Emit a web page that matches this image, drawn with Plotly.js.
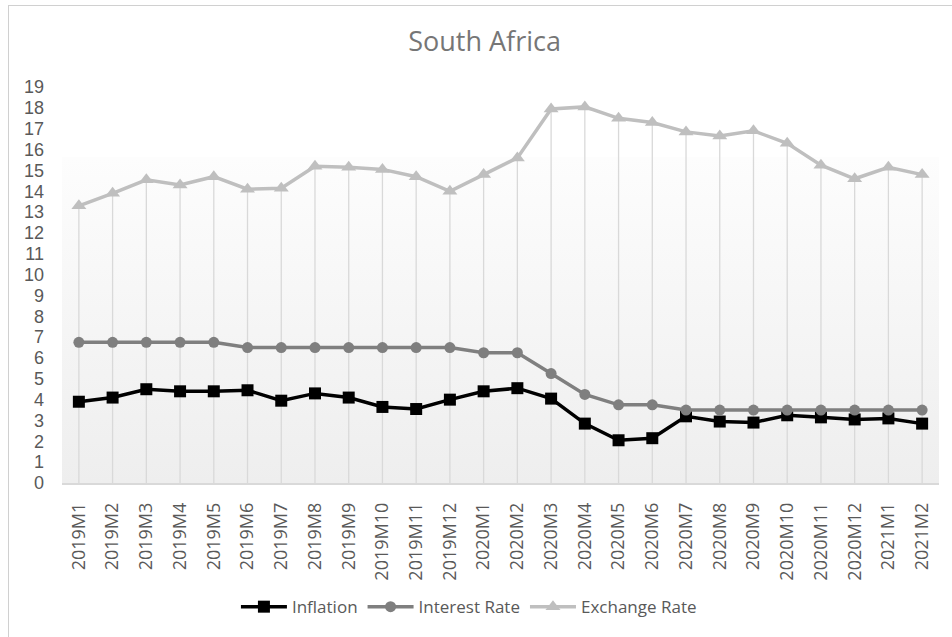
<!DOCTYPE html>
<html>
<head>
<meta charset="utf-8">
<script src="https://cdn.plot.ly/plotly-3.0.1.min.js"></script>
<style>
  html, body { margin: 0; padding: 0; background: #ffffff; }
  #wrap { position: relative; width: 952px; height: 637px; overflow: hidden; }
  #chart { position: absolute; left: 0; top: 0; width: 952px; height: 637px; }
  #frame { position: absolute; left: 8px; top: 5px; width: 960px; height: 660px;
           border: 1.5px solid #d0d0d0; pointer-events: none; }
</style>
</head>
<body>
<div id="wrap">
  <div id="chart"></div>
  <div id="frame"></div>
</div>
<script>
const categories = ["2019M1","2019M2","2019M3","2019M4","2019M5","2019M6","2019M7","2019M8","2019M9","2019M10","2019M11","2019M12",
                    "2020M1","2020M2","2020M3","2020M4","2020M5","2020M6","2020M7","2020M8","2020M9","2020M10","2020M11","2020M12",
                    "2021M1","2021M2"];
const inflation = [3.9, 4.1, 4.5, 4.4, 4.4, 4.45, 3.95, 4.3, 4.1, 3.65, 3.55, 4.0,
                   4.4, 4.55, 4.05, 2.85, 2.05, 2.15, 3.2, 2.95, 2.9, 3.25, 3.15, 3.05,
                   3.1, 2.85];
const interestRate = [6.75, 6.75, 6.75, 6.75, 6.75, 6.5, 6.5, 6.5, 6.5, 6.5, 6.5, 6.5,
                      6.25, 6.25, 5.25, 4.25, 3.75, 3.75, 3.5, 3.5, 3.5, 3.5, 3.5, 3.5,
                      3.5, 3.5];
const exchangeRate = [13.3, 13.9, 14.55, 14.3, 14.7, 14.1, 14.15, 15.2, 15.15, 15.05, 14.7, 14.0,
                      14.8, 15.6, 17.95, 18.05, 17.5, 17.3, 16.85, 16.65, 16.9, 16.3, 15.25, 14.6,
                      15.15, 14.8];
const yTicks = [0,1,2,3,4,5,6,7,8,9,10,11,12,13,14,15,16,17,18,19];

// drop lines from the highest series value down to the axis
const dropX = [], dropY = [];
categories.forEach((c, i) => {
  dropX.push(c, c, null);
  dropY.push(0, Math.max(inflation[i], interestRate[i], exchangeRate[i]), null);
});

const FONT = "'Open Sans', 'Liberation Sans', sans-serif";
const YFONT = "'Liberation Sans', Arial, sans-serif";
const gradSvg = "<svg xmlns='http://www.w3.org/2000/svg' width='100' height='100' preserveAspectRatio='none'>" +
  "<defs><linearGradient id='g' x1='0' y1='0' x2='0' y2='1'>" +
  "<stop offset='0' stop-color='#fdfdfd'/><stop offset='1' stop-color='#eeeeee'/></linearGradient></defs>" +
  "<rect width='100' height='100' fill='url(#g)'/></svg>";
const gradSrc = "data:image/svg+xml;charset=utf-8," + encodeURIComponent(gradSvg);

const traces = [
  { x: dropX, y: dropY, mode: "lines", line: { color: "#d9d9d9", width: 1.3 },
    showlegend: false, hoverinfo: "skip" },
  { x: categories, y: inflation, name: "Inflation", mode: "lines+markers",
    line: { color: "#000000", width: 3.5 }, marker: { symbol: "square", size: 12, color: "#000000" } },
  { x: categories, y: interestRate, name: "Interest Rate", mode: "lines+markers",
    line: { color: "#7f7f7f", width: 3.5 }, marker: { symbol: "circle", size: 11, color: "#7f7f7f" } },
  { x: categories, y: exchangeRate, name: "Exchange Rate", mode: "lines+markers",
    line: { color: "#bfbfbf", width: 3.5 }, marker: { symbol: "triangle-up", size: 13, color: "#bfbfbf" } }
];

const layout = {
  width: 952, height: 637,
  margin: { l: 62, r: 13, t: 80, b: 154 },
  paper_bgcolor: "rgba(0,0,0,0)",
  plot_bgcolor: "rgba(0,0,0,0)",
  font: { family: FONT, color: "#595959" },
  title: { text: "South Africa", x: 0.509, xref: "container", xanchor: "center",
           y: 0.934, yref: "container", yanchor: "middle",
           font: { family: FONT, size: 27, color: "#767676" } },
  xaxis: {
    type: "category", range: [-0.5, categories.length - 0.5],
    tickangle: -90, tickfont: { family: FONT, size: 18, color: "#595959" },
    showgrid: false, zeroline: false, showline: true, linecolor: "#d9d9d9", linewidth: 1.5,
    ticks: "", ticklabelstandoff: 11, fixedrange: true
  },
  yaxis: {
    range: [0, 19.34], tickvals: yTicks, ticktext: yTicks.map(String),
    tickfont: { family: YFONT, size: 18, color: "#595959" },
    showgrid: false, zeroline: false, showline: false, ticks: "",
    ticklabelstandoff: 17, fixedrange: true
  },
  legend: {
    orientation: "h", x: 0.464, xanchor: "center", y: -0.308, yanchor: "middle",
    font: { family: FONT, size: 17, color: "#595959" }, itemwidth: 46,
    bgcolor: "rgba(0,0,0,0)", traceorder: "normal"
  },
  images: [{
    source: gradSrc, xref: "paper", yref: "paper", x: 0, y: 0.809,
    sizex: 1, sizey: 0.809, xanchor: "left", yanchor: "top",
    sizing: "stretch", layer: "below"
  }],
  showlegend: true
};

Plotly.newPlot("chart", traces, layout, { displayModeBar: false, staticPlot: true });
</script>
</body>
</html>
